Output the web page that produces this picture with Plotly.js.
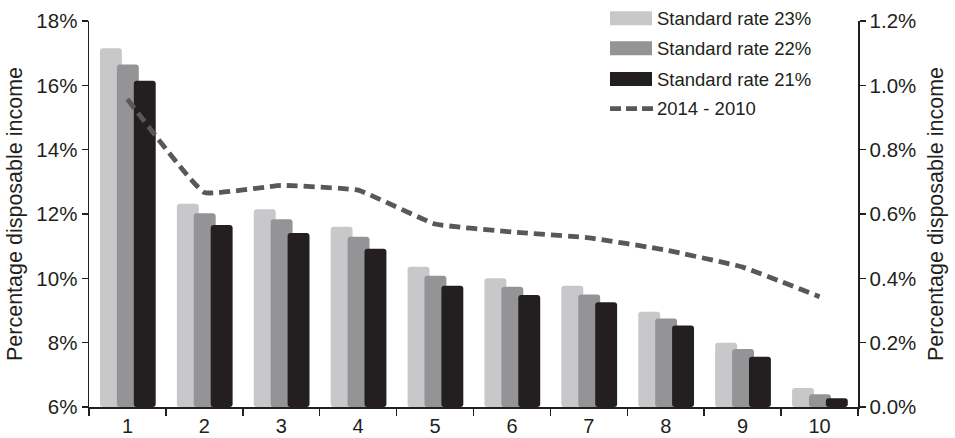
<!DOCTYPE html>
<html><head><meta charset="utf-8">
<script src="https://cdn.plot.ly/plotly-3.0.1.min.js"></script>
<style>html,body{margin:0;padding:0;background:#fff}#chart{width:955px;height:438px}</style>
</head><body><div id="chart"></div>
<script>
const categories = ['1','2','3','4','5','6','7','8','9','10'];
const rate23 = [17.15, 12.32, 12.15, 11.60, 10.36, 10.00, 9.77, 8.96, 8.00, 6.59];
const rate22 = [16.65, 12.02, 11.84, 11.29, 10.08, 9.74, 9.50, 8.75, 7.80, 6.40];
const rate21 = [16.14, 11.66, 11.41, 10.92, 9.77, 9.48, 9.26, 8.53, 7.56, 6.27];
const diff1410 = [0.957, 0.667, 0.689, 0.674, 0.569, 0.544, 0.526, 0.488, 0.435, 0.343];
const seriesNames = ['Standard rate 23%', 'Standard rate 22%', 'Standard rate 21%', '2014 - 2010'];

const colors = ['#c8c8ca', '#949497', '#231f20'];
const lineColor = '#58585a';
const W = 955, H = 438, ML = 89, MR = 97, MT = 21, MB = 31;
const PW = W - ML - MR, PH = H - MT - MB;
const px = x => (x - ML) / PW;
const py = y => (H - MB - y) / PH;

const bw = 0.285;
const centers = [-0.215, 0.005, 0.225];
const barData = [rate23, rate22, rate21];
const traces = barData.map((vals, i) => ({
  type: 'bar', x: categories, y: vals.map(v => v - 6), base: 6,
  width: bw, offset: centers[i] - bw / 2,
  marker: {color: colors[i], cornerradius: 3, line: {width: 0}},
  name: seriesNames[i], showlegend: false, hoverinfo: 'skip'
}));
traces.push({
  type: 'scatter', mode: 'lines', x: categories, y: diff1410, yaxis: 'y2',
  line: {color: lineColor, width: 4.8, dash: '11px,6px', shape: 'spline', smoothing: 0.3},
  name: seriesNames[3], showlegend: false, hoverinfo: 'skip'
});

const font = 'Liberation Sans, Arial, Helvetica, sans-serif';
const shapes = [], annotations = [];
const rows = [18.3, 48.3, 79, 108.7];
for (let i = 0; i < 3; i++) {
  shapes.push({type: 'rect', xref: 'paper', yref: 'paper',
    x0: px(610), x1: px(652), y0: py(rows[i] + 7), y1: py(rows[i] - 7),
    fillcolor: colors[i], line: {width: 0}});
}
shapes.push({type: 'line', xref: 'paper', yref: 'paper',
  x0: px(610), x1: px(655), y0: py(rows[3]), y1: py(rows[3]),
  line: {color: lineColor, width: 4.8, dash: '11px,5px'}});
for (let i = 0; i < 4; i++) {
  annotations.push({xref: 'paper', yref: 'paper', x: px(655), y: py(rows[i]),
    xanchor: 'left', yanchor: 'middle', text: seriesNames[i], showarrow: false,
    font: {family: font, size: 18.5, color: '#231f20'}});
}

const layout = {
  width: W, height: H,
  margin: {l: ML, r: MR, t: MT, b: MB, pad: 0},
  paper_bgcolor: '#fff', plot_bgcolor: '#fff',
  barmode: 'overlay', showlegend: false,
  font: {family: font, color: '#231f20', size: 20},
  xaxis: {type: 'category', range: [-0.5, 9.5], showline: true, linecolor: '#231f20', linewidth: 1.5,
    ticks: 'outside', tickson: 'boundaries', ticklen: 7, tickcolor: '#231f20', tickwidth: 1.5,
    showgrid: false, zeroline: false, tickfont: {size: 20}},
  yaxis: {range: [6, 18], dtick: 2, ticksuffix: '%', showline: true, linecolor: '#231f20', linewidth: 1.5,
    ticks: 'outside', ticklen: 6, tickcolor: '#231f20', tickwidth: 1.5, showgrid: false, zeroline: false,
    tickfont: {size: 20.5},
    title: {text: 'Percentage disposable income', font: {size: 21.5}, standoff: 8}},
  yaxis2: {overlaying: 'y', side: 'right', range: [0, 1.2], dtick: 0.2, tickformat: '.1f', ticksuffix: '%',
    showline: true, linecolor: '#231f20', linewidth: 1.5, ticks: 'outside', ticklen: 6,
    tickcolor: '#231f20', tickwidth: 1.5, showgrid: false, zeroline: false, tickfont: {size: 20.5},
    title: {text: 'Percentage disposable income', font: {size: 21.5}, standoff: 12}},
  shapes: shapes, annotations: annotations
};
Plotly.newPlot('chart', traces, layout, {staticPlot: true, displayModeBar: false});
</script></body></html>
